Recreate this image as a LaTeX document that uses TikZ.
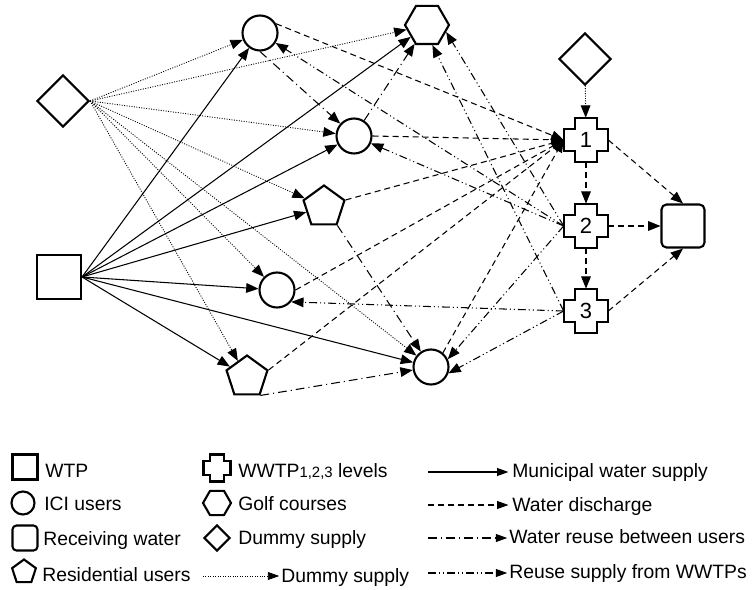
\documentclass[tikz,border=0pt]{standalone}
\usepackage{fontspec}
\setmainfont{Liberation Sans}
\usetikzlibrary{arrows.meta, shapes.geometric}

\newcommand{\crossoutline}[2]{%
  \draw[shapeline] ([shift={(-#2,-2*#2)}]#1.center) -- ++(2*#2,0) -- ++(0,#2)
    -- ++(#2,0) -- ++(0,2*#2) -- ++(-#2,0) -- ++(0,#2) -- ++(-2*#2,0)
    -- ++(0,-#2) -- ++(-#2,0) -- ++(0,-2*#2) -- ++(#2,0) -- cycle;}

\begin{document}
\begin{tikzpicture}[x=0.02cm, y=-0.02cm,
  font=\fontsize{11}{13}\selectfont,
  shapeline/.style={line width=1.2pt, line join=miter},
  ici/.style={circle, draw, shapeline, minimum size=0.7cm, inner sep=0pt},
  resid/.style={regular polygon, regular polygon sides=5, draw, shapeline,
    minimum size=0.86cm, inner sep=0pt},
  golf/.style={regular polygon, regular polygon sides=6, draw, shapeline,
    minimum size=0.88cm, inner sep=0pt},
  dummybox/.style={diamond, draw, shapeline, minimum width=1.04cm,
    minimum height=1.04cm, inner sep=0pt},
  wtpbox/.style={rectangle, draw, shapeline, minimum size=0.88cm, inner sep=0pt},
  recv/.style={rectangle, rounded corners=0.1cm, draw, shapeline,
    minimum size=0.86cm, inner sep=0pt},
  wwtp/.style={rectangle, minimum size=0.88cm, inner sep=0pt,
    font=\fontsize{12.5}{14}\selectfont},
  headtip/.style={-{Triangle[length=7pt,width=5.5pt]}},
  legtip/.style={-{Triangle[length=6.5pt,width=4.5pt]}},
  municipal/.style={headtip, line width=0.6pt},
  discharge/.style={headtip, line width=0.6pt, dash pattern=on 3.4pt off 2.3pt},
  reuse/.style={headtip, line width=0.6pt,
    dash pattern=on 5pt off 2.3pt on 0.6pt off 2.3pt},
  wwreuse/.style={headtip, line width=0.6pt,
    dash pattern=on 4.5pt off 1.7pt on 0.6pt off 1.7pt on 0.6pt off 1.7pt},
  dummyline/.style={headtip, line width=0.5pt, dash pattern=on 0.55pt off 0.85pt},
  legtext/.style={anchor=base west, inner sep=0pt}]

\useasboundingbox (0,0) rectangle (756,590);

\node[dummybox] (d1) at (63,101) {};
\node[wtpbox] (wtp) at (59,277) {};
\node[ici] (c1) at (260,33) {};
\node[golf] (g) at (427,25) {};
\node[ici] (c2) at (354,136) {};
\node[resid] (p1) at (324,207) {};
\node[ici] (c3) at (277,290) {};
\node[resid] (p2) at (247,377) {};
\node[ici] (c4) at (431,367) {};
\node[dummybox] (d2) at (585,59) {};
\node[wwtp] (w1) at (586,140) {1};
\node[wwtp] (w2) at (586,226) {2};
\node[wwtp] (w3) at (586,311) {3};
\node[recv] (rw) at (683,226) {};
\crossoutline{w1}{11}
\crossoutline{w2}{11}
\crossoutline{w3}{11}

\draw[dummyline] (d1.east) -- (c1);
\draw[dummyline] (d1.east) -- (g);
\draw[dummyline] (d1.east) -- (c2);
\draw[dummyline] (d1.east) -- (p1);
\draw[dummyline] (d1.east) -- (c3);
\draw[dummyline] (d1.east) -- (c4);
\draw[dummyline] (d1.east) -- (p2);
\draw[dummyline] (d2) -- (w1);

\draw[municipal] (wtp.east) -- (c1);
\draw[municipal] (wtp.east) -- (g);
\draw[municipal] (wtp.east) -- (c2);
\draw[municipal] (wtp.east) -- (p1);
\draw[municipal] (wtp.east) -- (c3);
\draw[municipal] (wtp.east) -- (c4);
\draw[municipal] (wtp.east) -- (p2);

\draw[discharge] (c1.30) -- (w1.west);
\draw[discharge] (c2.east) -- (w1.west);
\draw[discharge] (p1.corner 5) -- (w1.west);
\draw[discharge] (c3.east) -- (w1.west);
\draw[discharge] (p2.corner 5) -- (w1.west);
\draw[discharge] (c4.50) -- (w1.west);
\draw[discharge] (w1) -- (w2);
\draw[discharge] (w2) -- (w3);
\draw[discharge] (w1.east) -- (rw.north);
\draw[discharge] (w2) -- (rw);
\draw[discharge] (w3.east) -- (rw.south);

\draw[reuse] (c1.south) -- (c2);
\draw[reuse] (c2) -- (g);
\draw[reuse] (p1.corner 4) -- (c4);
\draw[reuse] (p2.corner 4) -- (c4);

\draw[wwreuse] (w2.west) -- (c1);
\draw[wwreuse] (w2.west) -- (c2);
\draw[wwreuse] (w2.west) -- (g.-20);
\draw[wwreuse] (w2.west) -- (c4.25);
\draw[wwreuse] (w3.west) -- (g.-75);
\draw[wwreuse] (w3.west) -- (c3.-40);
\draw[wwreuse] (w3.west) -- (c4.-20);

\node[wtpbox, minimum size=0.5cm] (lg-wtp) at (25,467) {};
\node[legtext] (lt-wtp) at (45,477) {WTP};
\node[ici, minimum size=0.46cm] (lg-ici) at (23,503) {};
\node[legtext] (lt-ici) at (44,510) {ICI users};
\node[recv, minimum size=0.5cm, rounded corners=0.08cm] (lg-rw) at (25,538) {};
\node[legtext] (lt-rw) at (43,545) {Receiving water};
\node[resid, minimum size=0.5cm] (lg-res) at (24,572) {};
\node[legtext] (lt-res) at (42,581) {Residential users};

\node[wwtp, minimum size=0.54cm] (lg-ww) at (217,468) {};
\crossoutline{lg-ww}{6.75}
\node[legtext] (lt-ww) at (238,477) {WWTP{\fontsize{8.5}{10}\selectfont 1,2,3} levels};
\node[golf, minimum size=0.56cm] (lg-golf) at (217,503) {};
\node[legtext] (lt-golf) at (238,510) {Golf courses};
\node[dummybox, minimum width=0.52cm, minimum height=0.52cm] (lg-dum) at (217,538) {};
\node[legtext] (lt-dum) at (238,544) {Dummy supply};
\node[legtext] (lt-dline) at (281,582) {Dummy supply};
\coordinate (ls-dline) at (203,576);
\draw[dummyline, legtip, shorten >=1pt] (ls-dline) -- (ls-dline -| lt-dline.west);

\node[legtext] (lt-mun) at (512,477) {Municipal water supply};
\coordinate (ls-mun) at (428,472);
\draw[municipal, legtip, shorten >=2pt] (ls-mun) -- (ls-mun -| lt-mun.west);
\node[legtext] (lt-dis) at (512,511) {Water discharge};
\coordinate (ls-dis) at (428,505);
\draw[discharge, legtip, shorten >=2pt] (ls-dis) -- (ls-dis -| lt-dis.west);
\node[legtext] (lt-reu) at (509,543) {Water reuse between users};
\coordinate (ls-reu) at (428,538);
\draw[reuse, legtip, shorten >=1pt] (ls-reu) -- (ls-reu -| lt-reu.west);
\node[legtext] (lt-wwr) at (509,578) {Reuse supply from WWTPs};
\coordinate (ls-wwr) at (428,573);
\draw[wwreuse, legtip, shorten >=1pt] (ls-wwr) -- (ls-wwr -| lt-wwr.west);
\end{tikzpicture}
\end{document}
